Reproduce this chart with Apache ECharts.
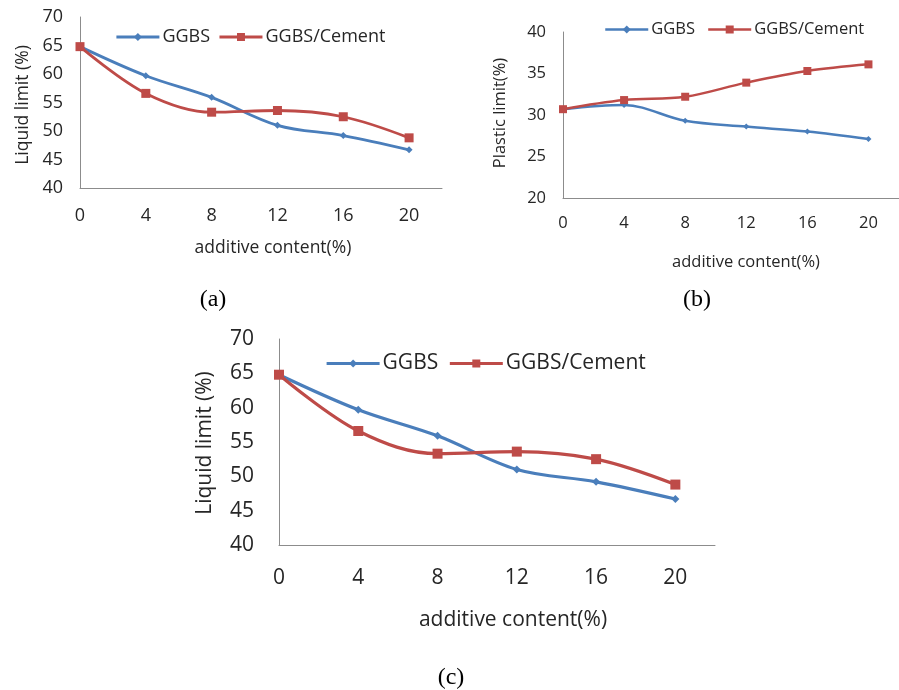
<!DOCTYPE html>
<html>
<head>
<meta charset="utf-8">
<script src="https://cdn.jsdelivr.net/npm/echarts@6/dist/echarts.min.js"></script>
<style>html,body{margin:0;padding:0;background:#fff;}#c{width:899px;height:690px;}</style>
</head>
<body>
<div id="c"></div>
<script>
const categories = [0, 4, 8, 12, 16, 20];
const xTicks = ['0', '4', '8', '12', '16', '20'];
const liquidGGBS = [64.8, 59.7, 55.9, 51.0, 49.2, 46.7];
const liquidCement = [64.8, 56.6, 53.3, 53.6, 52.5, 48.8];
const plasticGGBS = [30.7, 31.2, 29.3, 28.6, 28.0, 27.1];
const plasticCement = [30.7, 31.8, 32.2, 33.9, 35.3, 36.1];
const seriesNames = ['GGBS', 'GGBS/Cement'];
const panelLabels = ['(a)', '(b)', '(c)'];

const BLUE = '#4A7EBB', RED = '#BE4B48', AXIS = '#8c8c8c', TXT = '#262626';
const FONT = 'Open Sans';
const pairs = vals => categories.map((c, i) => [c, vals[i]]);

const grids = [
  {left: 80, top: 17, width: 362, height: 171},
  {left: 563, top: 32, width: 346, height: 166},
  {left: 279, top: 339, width: 436, height: 206}
];
const fs = [18, 16.5, 21];
const xMargin = [19, 17, 23];
const yMargin = [17, 17, 25];
const yRange = [[40, 70], [20, 40], [40, 70]];

const xAxis = grids.map((g, i) => ({
  type: 'value', gridIndex: i, min: 0, max: 22, interval: 4,
  axisLine: {show: true, lineStyle: {color: AXIS, width: 1}},
  axisTick: {show: false}, splitLine: {show: false},
  axisLabel: {
    showMaxLabel: false, margin: xMargin[i], fontSize: fs[i], fontFamily: FONT, color: TXT,
    formatter: v => { const k = categories.indexOf(v); return k >= 0 ? xTicks[k] : ''; }
  }
}));
const yAxis = grids.map((g, i) => ({
  type: 'value', gridIndex: i, min: yRange[i][0], max: yRange[i][1], interval: 5,
  axisLine: {show: true, lineStyle: {color: AXIS, width: 1}},
  axisTick: {show: false}, splitLine: {show: false},
  axisLabel: {margin: yMargin[i], fontSize: fs[i], fontFamily: FONT, color: TXT}
}));

const dataSets = [[liquidGGBS, liquidCement], [plasticGGBS, plasticCement], [liquidGGBS, liquidCement]];
const lw = [2.8, 2.5, 3.2];
const sq = [9, 8, 10];
const dm = [7, 6, 8];
const series = [];
dataSets.forEach((ds, i) => {
  series.push({
    name: seriesNames[0], type: 'line', xAxisIndex: i, yAxisIndex: i, smooth: 0.35,
    data: pairs(ds[0]), symbol: 'diamond', symbolSize: dm[i],
    lineStyle: {color: BLUE, width: lw[i]}, itemStyle: {color: BLUE}, z: 2
  });
  series.push({
    name: seriesNames[1], type: 'line', xAxisIndex: i, yAxisIndex: i, smooth: 0.35,
    data: pairs(ds[1]), symbol: 'rect', symbolSize: sq[i],
    lineStyle: {color: RED, width: lw[i]}, itemStyle: {color: RED}, z: 3
  });
});

const legendPos = [
  {left: 110, top: 35, w: 43, fs: 18, gap: 8, lw: 2.8},
  {left: 599, top: 28, w: 43, fs: 16.5, gap: 12, lw: 2.5},
  {left: 320, top: 360, w: 53, fs: 21, gap: 10, lw: 3.2}
];
const legend = legendPos.map(p => ({
  data: seriesNames, left: p.left, top: p.top - 12, itemWidth: p.w, itemHeight: 10,
  itemGap: p.gap, selectedMode: false,
  lineStyle: {width: p.lw},
  textStyle: {fontSize: p.fs, fontFamily: FONT, color: TXT, padding: [0, 0, 0, -2]}
}));

const textEl = (x, y, t, size, rot, family) => ({
  type: 'text', x: x, y: y, rotation: rot || 0,
  style: {text: t, fontSize: size, fontFamily: family || FONT, fill: family ? '#000' : TXT,
          align: 'center', verticalAlign: 'middle'}
});
const graphic = [
  textEl(273, 248, 'additive content(%)', 17.5),
  textEl(23, 105, 'Liquid limit (%)', 17.5, Math.PI / 2),
  textEl(746, 262, 'additive content(%)', 16.5),
  textEl(500, 113, 'Plastic limit(%)', 16.5, Math.PI / 2),
  textEl(513, 620, 'additive content(%)', 21),
  textEl(205, 443, 'Liquid limit (%)', 21, Math.PI / 2),
  textEl(213, 300, panelLabels[0], 24, 0, 'Liberation Serif'),
  textEl(697, 300, panelLabels[1], 24, 0, 'Liberation Serif'),
  textEl(451, 678, panelLabels[2], 24, 0, 'Liberation Serif')
];

const chart = echarts.init(document.getElementById('c'), null, {renderer: 'canvas'});
chart.setOption({
  animation: false,
  backgroundColor: '#fff',
  grid: grids.map(g => Object.assign({containLabel: false}, g)),
  xAxis, yAxis, series, legend, graphic
});
</script>
</body>
</html>
